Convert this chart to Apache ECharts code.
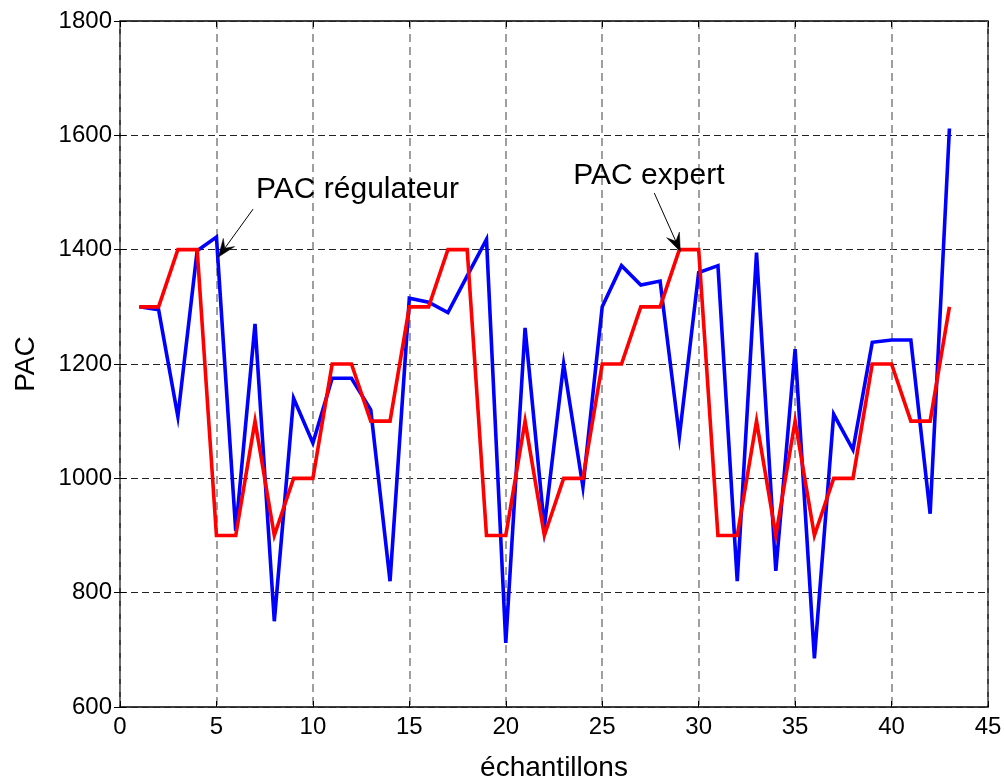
<!DOCTYPE html>
<html>
<head>
<meta charset="utf-8">
<script src="https://cdn.jsdelivr.net/npm/echarts@6/dist/echarts.min.js"></script>
<style>
  html, body { margin: 0; padding: 0; background: #ffffff; }
  #chart { width: 1004px; height: 782px; }
</style>
</head>
<body>
<div id="chart"></div>
<script>
// Sample numbers (x axis)
const samples = [1, 2, 3, 4, 5, 6, 7, 8, 9, 10, 11, 12, 13, 14, 15, 16, 17, 18, 19, 20,
  21, 22, 23, 24, 25, 26, 27, 28, 29, 30, 31, 32, 33, 34, 35, 36, 37, 38, 39, 40, 41, 42, 43];

// PAC given by the regulator (blue)
const pacRegulateur = [1300, 1295, 1108, 1398, 1422, 908, 1270, 750, 1140, 1062,
  1175, 1175, 1120, 820, 1315, 1308, 1290, 1354, 1418, 712,
  1263, 915, 1200, 985, 1300, 1372, 1338, 1345, 1073, 1360,
  1372, 820, 1395, 838, 1226, 685, 1112, 1050, 1238, 1242,
  1242, 938, 1612];

// PAC given by the expert (red)
const pacExpert = [1300, 1300, 1400, 1400, 900, 900, 1100, 900, 1000, 1000,
  1200, 1200, 1100, 1100, 1300, 1300, 1400, 1400, 900, 900,
  1100, 900, 1000, 1000, 1200, 1200, 1300, 1300, 1400, 1400,
  900, 900, 1100, 900, 1100, 900, 1000, 1000, 1200, 1200,
  1100, 1100, 1300];

// Tick values
const xTicks = [0, 5, 10, 15, 20, 25, 30, 35, 40, 45];
const yTicks = [600, 800, 1000, 1200, 1400, 1600, 1800];

// Callout texts with arrows (data coordinates)
const callouts = [
  { text: 'PAC régulateur', textAt: [7.05, 1504], from: [6.9, 1471], tip: [5.1, 1387] },
  { text: 'PAC expert', textAt: [23.5, 1530], from: [27.7, 1499], tip: [29.05, 1397] }
];

const FONT = '"Liberation Sans", Arial, Helvetica, sans-serif';

const chart = echarts.init(document.getElementById('chart'), null, { renderer: 'canvas' });

function pairs(xs, ys) { return xs.map((x, i) => [x, ys[i]]); }

const xMin = xTicks[0], xMax = xTicks[xTicks.length - 1], xStep = xTicks[1] - xTicks[0];
const yMin = yTicks[0], yMax = yTicks[yTicks.length - 1], yStep = yTicks[1] - yTicks[0];

const tickStyle = { show: true, inside: true, length: 6, lineStyle: { color: '#000', width: 1 } };
const plain = v => String(v);

chart.setOption({
  animation: false,
  backgroundColor: '#ffffff',
  grid: {
    left: 120, right: 16, top: 21, bottom: 75,
    outerBoundsMode: 'none', containLabel: false,
    show: true, borderColor: '#000', borderWidth: 1.5, backgroundColor: 'transparent'
  },
  xAxis: [
    {
      type: 'value', min: xMin, max: xMax, interval: xStep, position: 'bottom',
      name: 'échantillons', nameLocation: 'middle', nameGap: 47,
      nameTextStyle: { fontFamily: FONT, fontSize: 28, color: '#000' },
      axisLine: { show: false },
      axisTick: tickStyle,
      axisLabel: { fontFamily: FONT, fontSize: 24, color: '#000', margin: 8, formatter: plain },
      splitLine: { show: true, lineStyle: { color: '#808080', width: 1.5, type: [8, 5] } }
    },
    {
      type: 'value', min: xMin, max: xMax, interval: xStep, position: 'top',
      axisLine: { show: false }, axisTick: tickStyle,
      axisLabel: { show: false }, splitLine: { show: false }
    }
  ],
  yAxis: [
    {
      type: 'value', min: yMin, max: yMax, interval: yStep, position: 'left',
      name: 'PAC', nameLocation: 'middle', nameGap: 80,
      nameTextStyle: { fontFamily: FONT, fontSize: 28, color: '#000' },
      axisLine: { show: false },
      axisTick: tickStyle,
      axisLabel: { fontFamily: FONT, fontSize: 24, color: '#000', margin: 8, formatter: plain },
      splitLine: { show: true, lineStyle: { color: '#222', width: 1, type: [7, 4] } }
    },
    {
      type: 'value', min: yMin, max: yMax, interval: yStep, position: 'right',
      axisLine: { show: false }, axisTick: tickStyle,
      axisLabel: { show: false }, splitLine: { show: false }
    }
  ],
  series: [
    {
      name: 'PAC régulateur', type: 'line', xAxisIndex: 0, yAxisIndex: 0,
      data: pairs(samples, pacRegulateur), showSymbol: false, symbol: 'none',
      lineStyle: { color: '#0000ff', width: 3.6, join: 'miter' }, z: 3
    },
    {
      name: 'PAC expert', type: 'line', xAxisIndex: 0, yAxisIndex: 0,
      data: pairs(samples, pacExpert), showSymbol: false, symbol: 'none',
      lineStyle: { color: '#ff0000', width: 3.6, join: 'miter' }, z: 4
    }
  ]
});

// Callout texts and arrows, placed through the axis scales
function toPx(p) { return chart.convertToPixel({ xAxisIndex: 0, yAxisIndex: 0 }, p); }

const graphics = [];
callouts.forEach(c => {
  const t = toPx(c.textAt), a = toPx(c.from), b = toPx(c.tip);
  graphics.push({
    type: 'text', x: t[0], y: t[1], z: 10,
    style: { text: c.text, font: '30px ' + FONT, fill: '#000', align: 'left', verticalAlign: 'middle' }
  });
  const dx = b[0] - a[0], dy = b[1] - a[1];
  const len = Math.sqrt(dx * dx + dy * dy);
  const ux = dx / len, uy = dy / len, nx = -uy, ny = ux;
  const headLen = 18, halfW = 7, notch = 11;
  const baseX = b[0] - ux * headLen, baseY = b[1] - uy * headLen;
  const notchX = b[0] - ux * notch, notchY = b[1] - uy * notch;
  graphics.push({
    type: 'line', z: 10,
    shape: { x1: a[0], y1: a[1], x2: notchX, y2: notchY },
    style: { stroke: '#000', lineWidth: 1 }
  });
  graphics.push({
    type: 'polygon', z: 10,
    shape: { points: [[b[0], b[1]], [baseX + nx * halfW, baseY + ny * halfW], [notchX, notchY], [baseX - nx * halfW, baseY - ny * halfW]] },
    style: { fill: '#000', stroke: '#000', lineWidth: 0.5 }
  });
});
chart.setOption({ graphic: graphics });
</script>
</body>
</html>
